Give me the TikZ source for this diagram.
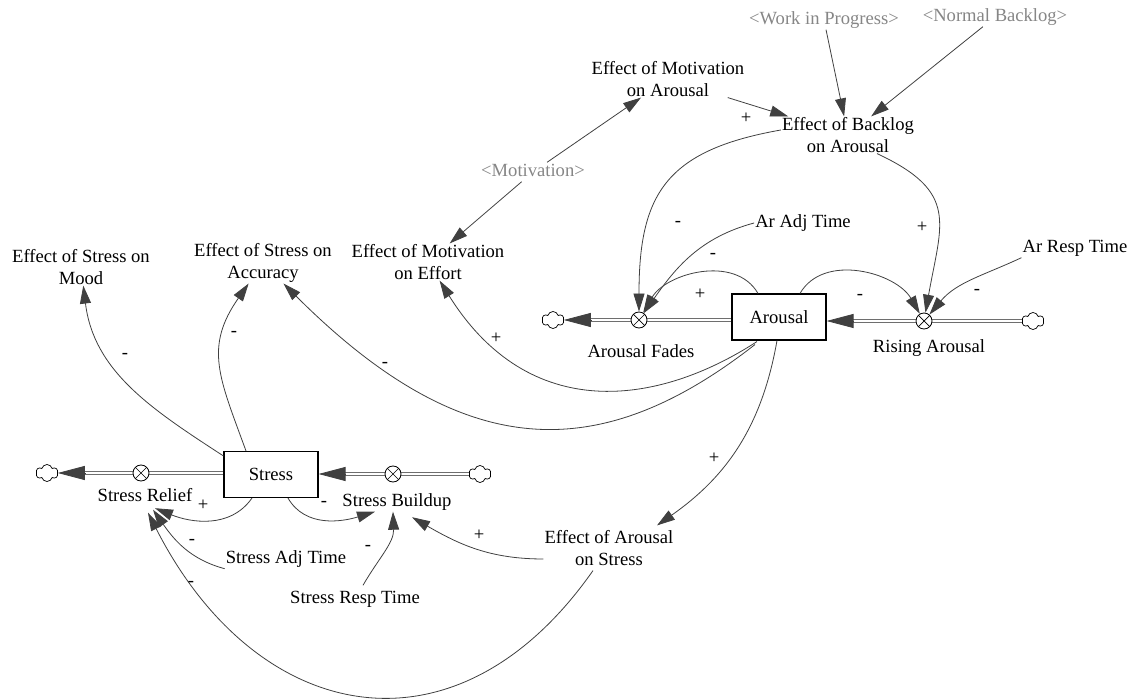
\documentclass[tikz,border=0pt]{standalone}
\usepackage{fontspec}
\setmainfont{Liberation Serif}
\usetikzlibrary{arrows.meta,shapes.symbols,calc}
\definecolor{linkcol}{HTML}{404040}
\definecolor{pipecol}{HTML}{5A5A5A}
\definecolor{shadowcol}{HTML}{868686}
\pgfdeclarelayer{pipes}
\pgfsetlayers{pipes,main}

\begin{document}
\begin{tikzpicture}[x=1pt,y=1pt,
  every node/.style={font=\fontsize{18.6}{21.5}\selectfont},
  multi/.style={align=center, inner sep=1pt},
  single/.style={inner sep=1pt, text height=13pt, text depth=4pt},
  ghost/.style={single, text=shadowcol},
  stock/.style={draw, line width=1.1pt, minimum width=94pt, minimum height=46pt, inner sep=0pt},
  valve/.style={circle, draw, fill=white, line width=0.8pt, minimum size=16pt, inner sep=0pt,
    path picture={\draw[line width=0.7pt]
      (path picture bounding box.south west) -- (path picture bounding box.north east)
      (path picture bounding box.north west) -- (path picture bounding box.south east);}},
  source/.style={cloud, draw, line width=0.7pt, cloud puffs=6, cloud puff arc=150, aspect=1.35,
    minimum width=22pt, minimum height=17pt, inner sep=0pt},
  pipe/.style={draw=pipecol, line width=3.8pt},
  pipecore/.style={draw=white, line width=2.2pt},
  flowtip/.style={draw=linkcol, line width=0.8pt, -{Triangle[length=27pt,width=14pt]}},
  link/.style={draw=linkcol, line width=0.8pt, -{Triangle[length=18pt,width=11pt]}},
  pol/.style={inner sep=0pt}
]
\useasboundingbox (0,0) rectangle (1136,-700);

% stocks
\node[stock] (Ar) at (779,-317) {Arousal};
\node[stock] (St) at (271,-474.5) {Stress};

% valves
\node[valve] (AF) at (639,-320) {};
\node[valve] (RA) at (924,-321) {};
\node[valve] (SR) at (141,-473) {};
\node[valve] (SB) at (393,-474) {};

% sources and sinks
\node[source] (AFc) at (553,-320) {};
\node[source] (RAc) at (1033,-321) {};
\node[source] (SRc) at (47,-473) {};
\node[source] (SBc) at (480,-474) {};

% flow names
\node[single] (AFn) at (641,-353) {Arousal Fades};
\node[single] (RAn) at (929,-348) {Rising Arousal};
\node[single] (SRn) at (145,-497) {Stress Relief};
\node[single] (SBn) at (397,-502) {Stress Buildup};

% auxiliaries
\node[multi] (ESM) at (81,-267) {Effect of Stress on\\Mood};
\node[multi] (ESA) at (263,-263) {Effect of Stress on\\Accuracy};
\node[multi] (EME) at (428,-262) {Effect of Motivation\\on Effort};
\node[multi] (EMA) at (668,-79) {Effect of Motivation\\on Arousal};
\node[multi] (EBA) at (848,-135) {Effect of Backlog\\on Arousal};
\node[multi] (EAS) at (609,-548) {Effect of Arousal\\on Stress};
\node[single] (ARA) at (803,-223) {Ar Adj Time};
\node[single] (ARR) at (1075,-248) {Ar Resp Time};
\node[single] (SAT) at (286,-559) {Stress Adj Time};
\node[single] (SRT) at (355,-599) {Stress Resp Time};

% shadow variables
\node[ghost] (WIP) at (824,-20) {<Work in Progress>};
\node[ghost] (NB) at (995,-17) {<Normal Backlog>};
\node[ghost] (MOT) at (533,-172) {<Motivation>};

% pipes: outer stroke and white core, laid under the valves
\begin{pgfonlayer}{pipes}
  \foreach \v/\a/\b in {AF/Ar.west/AFc.east, SR/St.west/SRc.east}{
    \draw[pipe] (\v -| \a) -- ($(\b)+(26,0)$);
    \draw[pipecore] ($(\v -| \a)+(-0.6,0)$) -- ($(\b)+(26,0)$);
  }
  \foreach \v/\a/\b in {RA/Ar.east/RAc.west, SB/St.east/SBc.west}{
    \draw[pipe] ($(\v -| \a)+(26,0)$) -- (\b);
    \draw[pipecore] ($(\v -| \a)+(26,0)$) -- ($(\b)+(0.6,0)$);
  }
\end{pgfonlayer}
\draw[flowtip] ($(AFc.east)+(27,0)$) -- (AFc.east);
\draw[flowtip] ($(RA -| Ar.east)+(27,0)$) -- (RA -| Ar.east);
\draw[flowtip] ($(SRc.east)+(27,0)$) -- (SRc.east);
\draw[flowtip] ($(SB -| St.east)+(27,0)$) -- (SB -| St.east);

% straight links
\draw[link] (EMA) -- (EBA);
\draw[link] (WIP) -- (EBA);
\draw[link] (NB) -- (EBA);
\draw[link] (MOT) -- (EMA);
\draw[link] (MOT) -- (EME);

% arousal sector
\draw[link] ([yshift=5pt]EBA.west) to[out=190,in=90,looseness=1.3] (AF);
\draw[link] ([xshift=29pt]EBA.south) to[out=-25,in=80,looseness=1.4] (RA);
\draw[link] (ARA.west) to[out=195,in=55] (AF);
\draw[link] ([xshift=-21pt]Ar.north) to[out=120,in=60] (AF);
\draw[link] ([xshift=21pt]Ar.north) to[out=60,in=120] (RA);
\draw[link] (ARR.south west) to[out=205,in=50] (RA);
\draw[link] ([shift={(-22pt,-1pt)}]Ar.south) to[out=213,in=-58,out looseness=0.94,in looseness=1.34] (EME);
\draw[link] ([shift={(-24pt,-4pt)}]Ar.south) to[out=218,in=-45,out looseness=1.06,in looseness=1.37] (ESA);
\draw[link] ([xshift=-2pt]Ar.south) to[out=260,in=35] ([shift={(48pt,4pt)}]EAS.north);

% stress sector
\draw[link] ([yshift=-5pt]St.north west) to[out=147,in=-83] (ESM);
\draw[link] ([xshift=-25pt]St.north) to[out=110,in=-125,looseness=1.19] (ESA);
\draw[link] ([xshift=-19pt]St.south) to[out=-125,in=-22] ([shift={(10pt,-1.5pt)}]SRn.south);
\draw[link] ([xshift=17pt]St.south) to[out=-60,in=197] ([xshift=-22pt]SBn.south);
\draw[link] (SAT.south west) to[out=165,in=-55] ([shift={(8pt,-3pt)}]SRn.south);
\draw[link] ([shift={(8pt,4pt)}]SRT.north) to[out=60,in=-88] ([xshift=-4pt]SBn.south);
\draw[link] ([yshift=-11pt]EAS.west) to[out=180,in=-30] ([shift={(15pt,-5.5pt)}]SBn.south);
\draw[link] ([shift={(-16pt,-4pt)}]EAS.south) to[out=-125,in=-63,looseness=1.36] ([shift={(3pt,-6pt)}]SRn.south);

% polarities
\node[pol] (p1) at (746,-118) {+};
\node[pol] (p2) at (678,-224) {-};
\node[pol] (p3) at (713,-256) {-};
\node[pol] (p4) at (700,-294) {+};
\node[pol] (p5) at (860,-297) {-};
\node[pol] (p6) at (922,-227) {+};
\node[pol] (p7) at (977,-292) {-};
\node[pol] (p8) at (496,-338) {+};
\node[pol] (p9) at (385,-365) {-};
\node[pol] (p10) at (125,-356) {-};
\node[pol] (p11) at (234,-334) {-};
\node[pol] (p12) at (203,-505) {+};
\node[pol] (p13) at (324,-504) {-};
\node[pol] (p14) at (192,-542) {-};
\node[pol] (p15) at (368,-548) {-};
\node[pol] (p16) at (479,-535) {+};
\node[pol] (p17) at (191,-584) {-};
\node[pol] (p18) at (714,-458) {+};
\end{tikzpicture}
\end{document}
